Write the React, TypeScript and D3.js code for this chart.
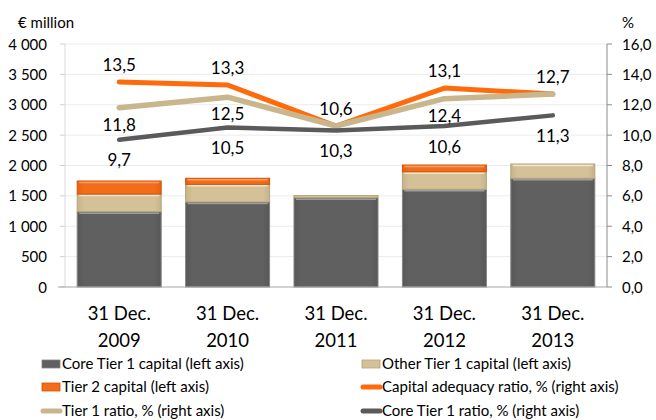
import React from "react";
import * as d3 from "d3";

const categories = ["31 Dec. 2009", "31 Dec. 2010", "31 Dec. 2011", "31 Dec. 2012", "31 Dec. 2013"];
const coreTier1Capital = [1240, 1400, 1470, 1608, 1790];
const otherTier1Capital = [290, 290, 35, 290, 235];
const tier2Capital = [215, 100, 0, 110, 0];
const capitalAdequacyRatio = [13.5, 13.3, 10.6, 13.1, 12.7];
const tier1Ratio = [11.8, 12.5, 10.6, 12.4, 12.7];
const coreTier1Ratio = [9.7, 10.5, 10.3, 10.6, 11.3];
const tier1LabelShown = [true, true, false, true, false];
const leftTicks = [0, 500, 1000, 1500, 2000, 2500, 3000, 3500, 4000];
const rightTicks = [0, 2, 4, 6, 8, 10, 12, 14, 16];

const W = 656;
const H = 420;
const FONT = "Lato, 'Open Sans', sans-serif";

const locale = d3.formatLocale({ decimal: ",", thousands: " ", grouping: [3], currency: ["", "€"] });
const fmtLeft = locale.format(",");
const fmtPct = locale.format(".1f");

export default function App() {
  const x = d3.scaleBand<string>().domain(categories).range([65, 607]).padding(0);
  const barW = x.bandwidth() * 0.775;
  const cx = (c: string) => (x(c) as number) + x.bandwidth() / 2;
  const yL = d3.scaleLinear().domain([0, 4000]).range([287, 44]);
  const yR = d3.scaleLinear().domain([0, 16]).range([287, 44]);

  const rows = categories.map((c, i) => ({
    cat: c,
    core: coreTier1Capital[i],
    other: otherTier1Capital[i],
    tier2: tier2Capital[i],
  }));
  const keys = ["core", "other", "tier2"];
  const stack = d3.stack<any>().keys(keys)(rows);

  const segStyle: Record<string, { fill: string; stroke: string; hi: string }> = {
    core: { fill: "url(#gCore)", stroke: "#858585", hi: "#9c9c9c" },
    other: { fill: "url(#gOther)", stroke: "#b5a47e", hi: "#efe6cc" },
    tier2: { fill: "url(#gT2)", stroke: "#d0560e", hi: "#f8a060" },
  };

  const line = d3
    .line<number>()
    .x((_, i) => cx(categories[i]))
    .y((v) => yR(v));

  const lineSeries = [
    { vals: capitalAdequacyRatio, color: "#FF6A0D", w: 5 },
    { vals: tier1Ratio, color: "#C9B68D", w: 5.5 },
    { vals: coreTier1Ratio, color: "#5A5A5A", w: 4.5 },
  ];

  const legendItems = [
    { label: "Core Tier 1 capital (left axis)", type: "bar", key: "core", col: 0, row: 0 },
    { label: "Other Tier 1 capital (left axis)", type: "bar", key: "other", col: 1, row: 0 },
    { label: "Tier 2 capital (left axis)", type: "bar", key: "tier2", col: 0, row: 1 },
    { label: "Capital adequacy ratio, % (right axis)", type: "line", color: "#FF6A0D", col: 1, row: 1 },
    { label: "Tier 1 ratio, % (right axis)", type: "line", color: "#C9B68D", col: 0, row: 2 },
    { label: "Core Tier 1 ratio, % (right axis)", type: "line", color: "#5A5A5A", col: 1, row: 2 },
  ];
  const legendRowY = [364, 387, 411];
  const legendColX = [42, 362];

  return (
    <svg
      width={W}
      height={H}
      style={{ position: "absolute", left: 0, top: 0, background: "#fff" }}
      fontFamily={FONT}
    >
      <defs>
        <linearGradient id="gCore" x1="0" x2="1" y1="0" y2="0">
          <stop offset="0" stopColor="#575757" />
          <stop offset="0.08" stopColor="#606060" />
          <stop offset="0.92" stopColor="#606060" />
          <stop offset="1" stopColor="#575757" />
        </linearGradient>
        <linearGradient id="gOther" x1="0" x2="1" y1="0" y2="0">
          <stop offset="0" stopColor="#c6b388" />
          <stop offset="0.08" stopColor="#d4c197" />
          <stop offset="0.92" stopColor="#d4c197" />
          <stop offset="1" stopColor="#c6b388" />
        </linearGradient>
        <linearGradient id="gT2" x1="0" x2="1" y1="0" y2="0">
          <stop offset="0" stopColor="#e8600f" />
          <stop offset="0.08" stopColor="#f36c1c" />
          <stop offset="0.92" stopColor="#f36c1c" />
          <stop offset="1" stopColor="#e8600f" />
        </linearGradient>
      </defs>

      {/* gridlines */}
      {leftTicks.filter((t) => t > 0).map((t) => (
        <line key={"g" + t} x1={65} x2={607} y1={yL(t)} y2={yL(t)} stroke="#ebebeb" strokeWidth={1} />
      ))}

      {/* left axis */}
      <line x1={65} x2={65} y1={44} y2={287} stroke="#d9d9d9" strokeWidth={1} />
      {leftTicks.map((t) => (
        <g key={"l" + t}>
          <line x1={60} x2={65} y1={yL(t)} y2={yL(t)} stroke="#d0d0d0" />
          <text x={47} y={yL(t) + 5.5} textAnchor="end" fontSize={15} fill="#000">
            {fmtLeft(t)}
          </text>
        </g>
      ))}

      {/* right axis */}
      <line x1={607} x2={607} y1={44} y2={287} stroke="#8c8c8c" strokeWidth={1} />
      {rightTicks.map((t) => (
        <g key={"r" + t}>
          <line x1={607} x2={612} y1={yR(t)} y2={yR(t)} stroke="#8c8c8c" />
          <text x={622} y={yR(t) + 5.5} textAnchor="start" fontSize={15} fill="#000">
            {fmtPct(t)}
          </text>
        </g>
      ))}

      <text x={18} y={28} fontSize={15} fill="#000">€ million</text>
      <text x={622} y={28} fontSize={15} fill="#000">%</text>

      {/* bars */}
      {stack.map((s) =>
        s.map((d: any, i: number) => {
          const v = d[1] - d[0];
          if (v <= 0) return null;
          const c = categories[i];
          const x0 = cx(c) - barW / 2;
          const yTop = yL(d[1]);
          const h = yL(d[0]) - yL(d[1]);
          const st = segStyle[s.key];
          return (
            <g key={s.key + i}>
              <rect x={x0} y={yTop} width={barW} height={h} fill={st.fill} stroke={st.stroke} strokeWidth={1} />
              {h > 3 && (
                <line x1={x0 + 2} x2={x0 + barW - 2} y1={yTop + 1.5} y2={yTop + 1.5} stroke={st.hi} strokeWidth={1.5} />
              )}
            </g>
          );
        })
      )}

      {/* bottom axis */}
      <line x1={58} x2={607} y1={287} y2={287} stroke="#a6a6a6" strokeWidth={1} />

      {/* lines */}
      {lineSeries.map((ls, k) => (
        <path
          key={"ln" + k}
          d={line(ls.vals) as string}
          fill="none"
          stroke={ls.color}
          strokeWidth={ls.w}
          strokeLinecap="round"
          strokeLinejoin="round"
        />
      ))}

      {/* data labels */}
      {capitalAdequacyRatio.map((v, i) => (
        <text key={"car" + i} x={cx(categories[i])} y={yR(v) - 17 + 6} textAnchor="middle" fontSize={17} fill="#000">
          {fmtPct(v)}
        </text>
      ))}
      {tier1Ratio.map((v, i) =>
        tier1LabelShown[i] ? (
          <text key={"t1" + i} x={cx(categories[i])} y={yR(v) + 17 + 6} textAnchor="middle" fontSize={17} fill="#000">
            {fmtPct(v)}
          </text>
        ) : null
      )}
      {coreTier1Ratio.map((v, i) => (
        <text key={"ct1" + i} x={cx(categories[i])} y={yR(v) + 20.5 + 6} textAnchor="middle" fontSize={17} fill="#000">
          {fmtPct(v)}
        </text>
      ))}

      {/* x labels */}
      {categories.map((c) => {
        const parts = [c.slice(0, 7), c.slice(8)];
        return (
          <text key={"x" + c} x={cx(c)} textAnchor="middle" fontSize={18.5} fill="#000">
            <tspan x={cx(c)} y={320}>{parts[0]}</tspan>
            <tspan x={cx(c)} y={347}>{parts[1]}</tspan>
          </text>
        );
      })}

      {/* legend */}
      {legendItems.map((it, k) => {
        const lx = legendColX[it.col];
        const ly = legendRowY[it.row];
        return (
          <g key={"lg" + k}>
            {it.type === "bar" ? (
              <rect
                x={lx}
                y={ly - 4}
                width={18}
                height={8}
                fill={segStyle[it.key as string].fill}
                stroke={segStyle[it.key as string].stroke}
                strokeWidth={0.8}
              />
            ) : (
              <line x1={lx + 1} x2={lx + 18} y1={ly} y2={ly} stroke={it.color} strokeWidth={5} strokeLinecap="round" />
            )}
            <text x={lx + 20} y={ly + 5} fontSize={15} fill="#000">
              {it.label}
            </text>
          </g>
        );
      })}
    </svg>
  );
}
